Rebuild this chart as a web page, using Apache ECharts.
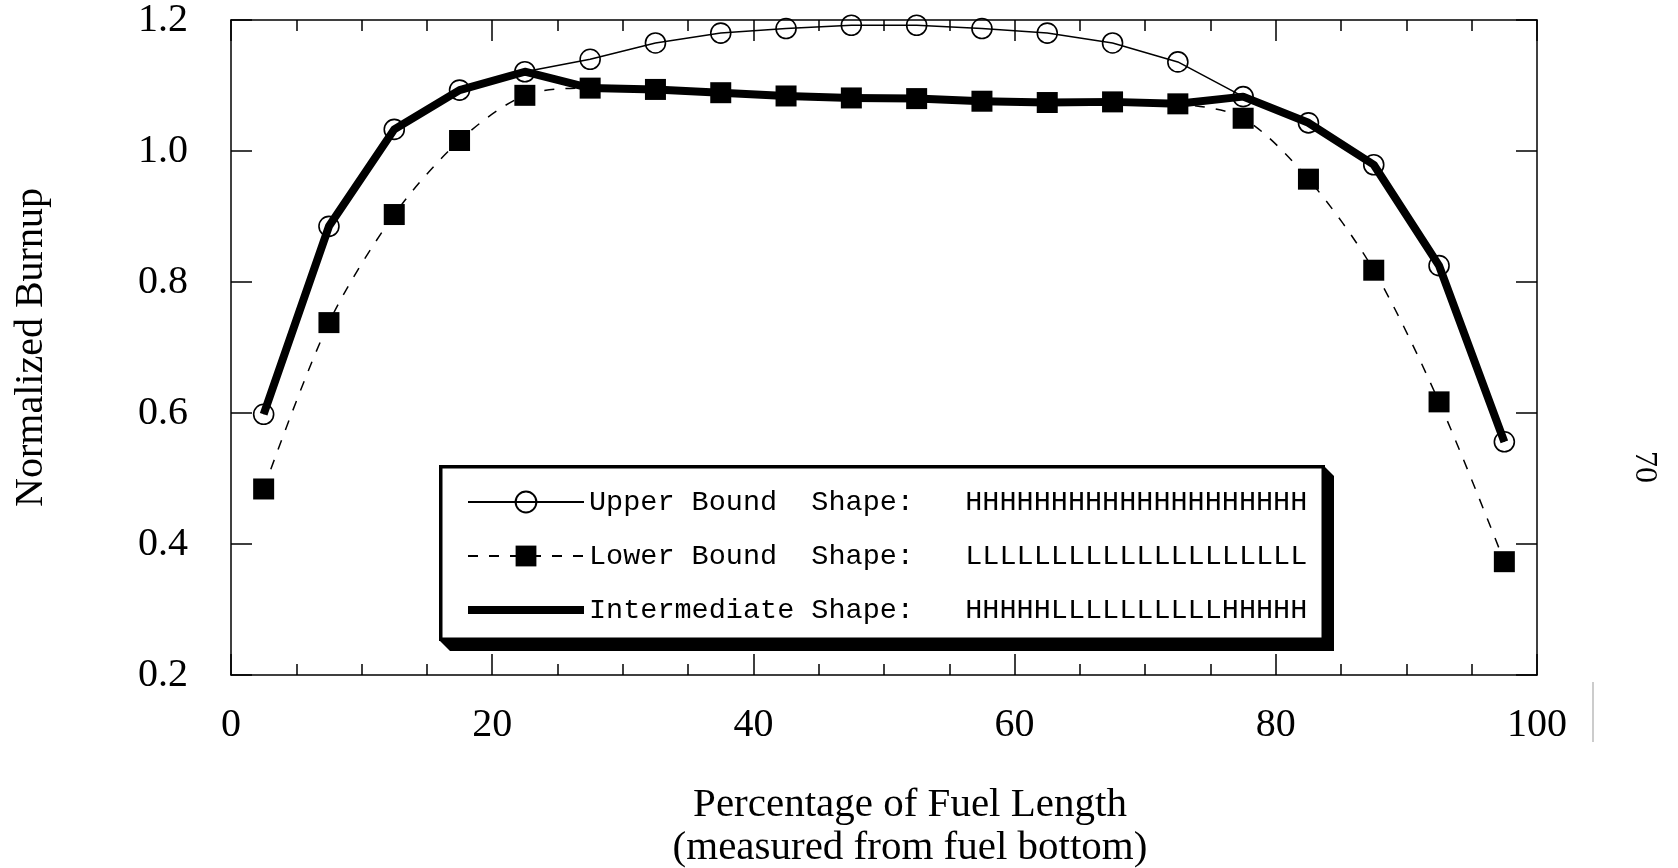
<!DOCTYPE html>
<html>
<head>
<meta charset="utf-8">
<script src="https://cdn.jsdelivr.net/npm/echarts@6/dist/echarts.min.js"></script>
<style>
html,body{margin:0;padding:0;background:#fff;}
#chart{width:1678px;height:868px;}
</style>
</head>
<body>
<div id="chart"></div>
<script>
// ---- data ----
const positions = [2.5, 7.5, 12.5, 17.5, 22.5, 27.5, 32.5, 37.5, 42.5, 47.5, 52.5, 57.5, 62.5, 67.5, 72.5, 77.5, 82.5, 87.5, 92.5, 97.5];
const upperBound = [0.598, 0.885, 1.033, 1.093, 1.121, 1.140, 1.165, 1.180, 1.187, 1.192, 1.192, 1.187, 1.180, 1.165, 1.136, 1.083, 1.043, 0.979, 0.825, 0.556];
const lowerBound = [0.484, 0.738, 0.903, 1.016, 1.085, 1.096, 1.094, 1.089, 1.084, 1.081, 1.080, 1.076, 1.074, 1.075, 1.072, 1.050, 0.957, 0.818, 0.617, 0.373];
const intermediate = [0.598, 0.885, 1.033, 1.093, 1.121, 1.096, 1.094, 1.089, 1.084, 1.081, 1.080, 1.076, 1.074, 1.075, 1.072, 1.083, 1.043, 0.979, 0.825, 0.556];
const seriesNames = ['Upper Bound', 'Lower Bound', 'Intermediate'];
const legendLabels = ['Upper Bound  Shape:', 'Lower Bound  Shape:', 'Intermediate Shape:'];
const shapeCodes = ['HHHHHHHHHHHHHHHHHHHH', 'LLLLLLLLLLLLLLLLLLLL', 'HHHHHLLLLLLLLLLHHHHH'];
const xTicks = [0, 20, 40, 60, 80, 100];
const yTicks = [0.2, 0.4, 0.6, 0.8, 1.0, 1.2];
const xTitle = 'Percentage of Fuel Length\n(measured from fuel bottom)';
const yTitle = 'Normalized Burnup';
const pageNumber = '70';

// ---- chart ----
const serif = 'Liberation Serif, Times New Roman, serif';
const mono = 'Liberation Mono, Courier New, monospace';
const pair = (xs, ys) => xs.map((x, i) => [x, ys[i]]);

const chart = echarts.init(document.getElementById('chart'), null, {renderer: 'canvas'});

const axisLine = {show: true, onZero: false, lineStyle: {color: '#000', width: 1.5}};
function xAxisCfg(pos, showLabel) {
  return {
    type: 'value', position: pos, min: xTicks[0], max: xTicks[xTicks.length - 1], interval: 20,
    axisLine: axisLine,
    axisTick: {show: true, inside: true, length: 21, lineStyle: {color: '#000', width: 1.5}},
    minorTick: {show: true, splitNumber: 4, length: 11, lineStyle: {color: '#000', width: 1.5}},
    splitLine: {show: false}, minorSplitLine: {show: false},
    axisLabel: {show: showLabel, color: '#000', fontFamily: serif, fontSize: 40, margin: 30},
    name: showLabel ? xTitle : '',
    nameLocation: 'middle', nameGap: 109,
    nameTextStyle: {color: '#000', fontFamily: serif, fontSize: 41, lineHeight: 43, padding: [0, 0, 0, 52]}
  };
}
function yAxisCfg(pos, showLabel) {
  return {
    type: 'value', position: pos, min: yTicks[0], max: yTicks[yTicks.length - 1], interval: 0.2,
    axisLine: axisLine,
    axisTick: {show: true, inside: true, length: 21, lineStyle: {color: '#000', width: 1.5}},
    splitLine: {show: false},
    axisLabel: {show: showLabel, color: '#000', fontFamily: serif, fontSize: 40, margin: 43,
      formatter: v => v.toFixed(1)},
    name: showLabel ? yTitle : '',
    nameLocation: 'middle', nameGap: 180, nameRotate: 90,
    nameTextStyle: {color: '#000', fontFamily: serif, fontSize: 40}
  };
}

const option = {
  animation: false,
  backgroundColor: '#fff',
  grid: {left: 231, right: 141, top: 20, bottom: 193, containLabel: false, outerBoundsMode: 'none'},
  xAxis: [xAxisCfg('bottom', true), xAxisCfg('top', false)],
  yAxis: [yAxisCfg('left', true), yAxisCfg('right', false)],
  legend: {
    show: true, orient: 'vertical', left: 464, top: 487, padding: 0,
    itemWidth: 116, itemHeight: 26, itemGap: 24, itemTextGap: 10,
    z: 10,
    data: [
      {name: seriesNames[0]},
      {name: seriesNames[1]},
      {name: seriesNames[2], itemStyle: {opacity: 0}, lineStyle: {width: 8, color: '#000'}}
    ],
    formatter: name => {
      const i = seriesNames.indexOf(name);
      return legendLabels[i] + '   ' + shapeCodes[i];
    },
    textStyle: {color: '#000', fontFamily: mono, fontSize: 28.5, lineHeight: 30},
    selectedMode: false
  },
  graphic: [
    {type: 'polygon', z: 5, silent: true,
     shape: {points: [[1323, 465], [1334, 476], [1334, 651], [450, 651], [439, 640]]},
     style: {fill: '#000'}},
    {type: 'rect', z: 6, silent: true,
     shape: {x: 440.75, y: 466.75, width: 882.5, height: 172.5},
     style: {fill: '#fff', stroke: '#000', lineWidth: 3.5}},
    {type: 'text', z: 6, silent: true, x: 1644, y: 467, rotation: -Math.PI / 2,
     style: {text: pageNumber, fill: '#000', font: '32px ' + serif, align: 'center', verticalAlign: 'middle'}},
    {type: 'line', z: 6, silent: true,
     shape: {x1: 1593, y1: 682, x2: 1593, y2: 742},
     style: {stroke: '#999', lineWidth: 1}}
  ],
  series: [
    {
      name: seriesNames[0], type: 'line', z: 4,
      data: pair(positions, upperBound),
      smooth: false,
      symbol: 'circle', symbolSize: 20,
      itemStyle: {color: 'rgba(255,255,255,0)', borderColor: '#000', borderWidth: 1.6},
      lineStyle: {color: '#000', width: 1.5}
    },
    {
      name: seriesNames[1], type: 'line', z: 3,
      data: pair(positions, lowerBound),
      smooth: 0.3,
      symbol: 'rect', symbolSize: 21,
      itemStyle: {color: '#000', borderWidth: 0},
      lineStyle: {color: '#000', width: 1.5, type: [10, 11]}
    },
    {
      name: seriesNames[2], type: 'line', z: 2,
      data: pair(positions, intermediate),
      symbol: 'none',
      itemStyle: {color: '#000'},
      lineStyle: {color: '#000', width: 8, join: 'round', cap: 'butt'}
    }
  ]
};
chart.setOption(option);
</script>
</body>
</html>
